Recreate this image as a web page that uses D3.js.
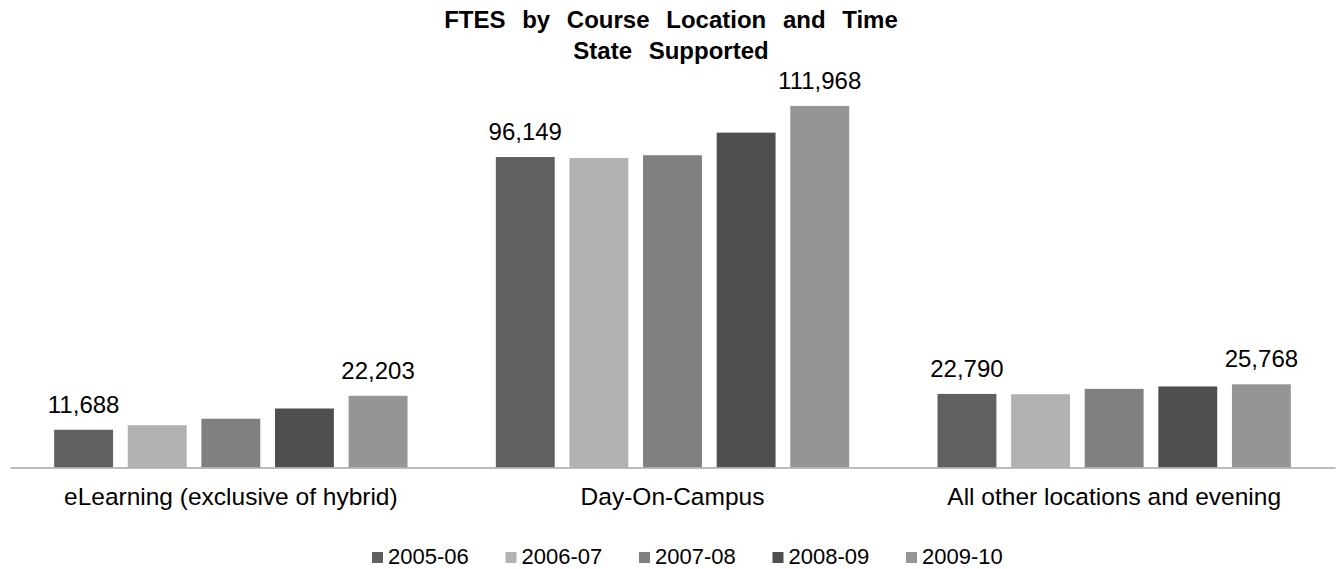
<!DOCTYPE html>
<html>
<head>
<meta charset="utf-8">
<script src="https://cdn.jsdelivr.net/npm/d3@7"></script>
<style>
  body { margin: 0; background: #fff; }
  text { font-family: "Liberation Sans", Arial, sans-serif; fill: #000; }
</style>
</head>
<body>
<svg width="1341" height="569"></svg>
<script>
// Data
var categories = ["eLearning (exclusive of hybrid)", "Day-On-Campus", "All other locations and evening"];
var years = ["2005-06", "2006-07", "2007-08", "2008-09", "2009-10"];
var elearning = [11688, 13100, 15100, 18270, 22203];
var dayOnCampus = [96149, 95850, 96700, 103700, 111968];
var otherLocations = [22790, 22700, 24350, 25100, 25768];
var yearColors = ["#606060", "#b2b2b2", "#808080", "#4f4f4f", "#959595"];
var titleLines = ["FTES by Course Location and Time", "State Supported"];

var seriesByCategory = [elearning, dayOnCampus, otherLocations];

var svg = d3.select("svg");

// Scales
var x0 = d3.scaleBand()
    .domain(categories)
    .range([10, 1335]);

var x1 = d3.scaleBand()
    .domain(years)
    .range([0, x0.bandwidth()])
    .paddingInner(0.2)
    .paddingOuter(0.6);

var y = d3.scaleLinear()
    .domain([0, 120000])
    .range([467.5, 80]);

var color = d3.scaleOrdinal()
    .domain(years)
    .range(yearColors);

// flatten into rows for drawing
var rows = [];
categories.forEach(function(c, i) {
  years.forEach(function(yr, j) {
    rows.push({ category: c, year: yr, value: seriesByCategory[i][j], idx: j });
  });
});

// Title
svg.append("g").selectAll("text")
  .data(titleLines)
  .enter()
  .append("text")
  .attr("x", 671)
  .attr("y", function(d, i) { return 28 + i * 31; })
  .attr("text-anchor", "middle")
  .style("font-size", "24px")
  .style("font-weight", "bold")
  .style("word-spacing", "10px")
  .text(function(d) { return d; });

// Bars
svg.append("g").selectAll("rect")
  .data(rows)
  .enter()
  .append("rect")
  .attr("x", function(d) { return x0(d.category) + x1(d.year); })
  .attr("y", function(d) { return y(d.value); })
  .attr("width", x1.bandwidth())
  .attr("height", function(d) { return y(0) - y(d.value); })
  .style("fill", function(d) { return color(d.year); });

// Value labels, only first and last year
svg.append("g").selectAll("text")
  .data(rows.filter(function(d) { return d.idx === 0 || d.idx === years.length - 1; }))
  .enter()
  .append("text")
  .attr("x", function(d) { return x0(d.category) + x1(d.year) + x1.bandwidth() / 2; })
  .attr("y", function(d) { return y(d.value) - 17; })
  .attr("text-anchor", "middle")
  .style("font-size", "24px")
  .text(function(d) { return d3.format(",")(d.value); });

// X axis
var xAxis = svg.append("g")
  .attr("transform", "translate(0," + y(0) + ")")
  .call(d3.axisBottom(x0).tickSize(0).tickPadding(0));

xAxis.select(".domain")
  .attr("stroke", "#a6a6a6")
  .attr("stroke-width", 1.5);

xAxis.selectAll("text")
  .attr("dy", null)
  .attr("y", 37.5)
  .style("font-size", "24.5px")
  .style("font-family", "Liberation Sans, Arial, sans-serif")
  .style("fill", "#000");

// Legend
var legend = svg.append("g")
  .attr("transform", "translate(372,0)");

var items = legend.selectAll("g")
  .data(years)
  .enter()
  .append("g")
  .attr("transform", function(d, i) { return "translate(" + (i * 133.5) + ",0)"; });

items.append("rect")
  .attr("x", 0)
  .attr("y", 552)
  .attr("width", 11)
  .attr("height", 11)
  .style("fill", function(d) { return color(d); });

items.append("text")
  .attr("x", 16)
  .attr("y", 564)
  .style("font-size", "22px")
  .text(function(d) { return d; });
</script>
</body>
</html>
